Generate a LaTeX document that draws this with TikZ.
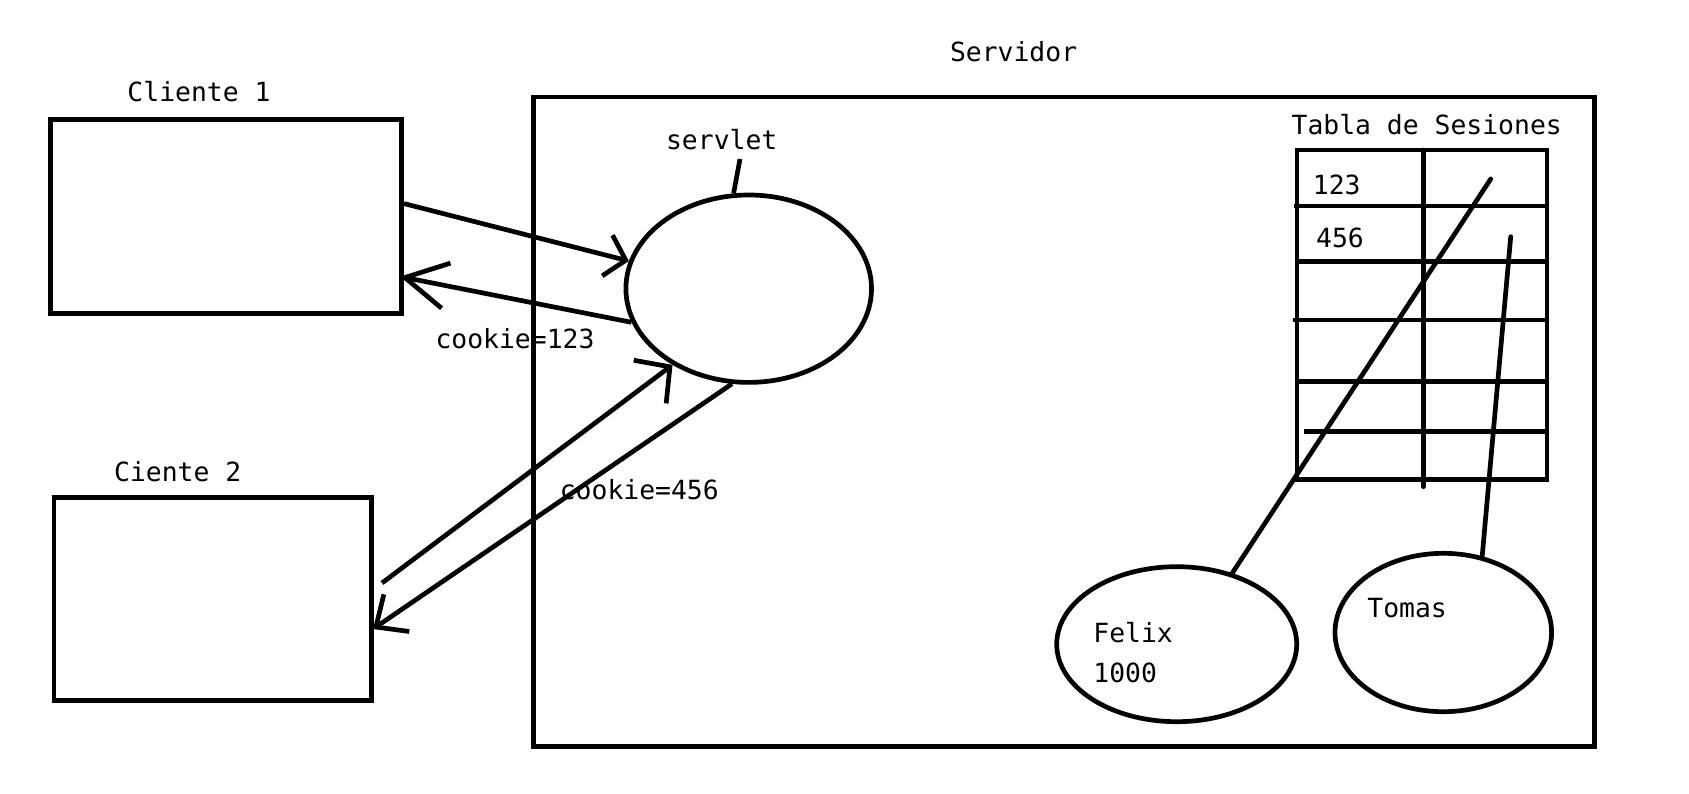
\documentclass[tikz,border=0pt]{standalone}
\usepackage{fontspec}
\usetikzlibrary{arrows.meta,shapes.geometric,calc}
\newfontfamily\sketchFont{DejaVu Sans Mono}
\tikzstyle{clientBox}=[shape = rectangle, draw, line width = 4.7pt, inner sep = 0pt]
\tikzstyle{sessionOval}=[shape = ellipse, draw, line width = 4.7pt, inner sep = 0pt]
\tikzstyle{sketchText}=[inner sep = 0pt, align = left, font = {\sketchFont\fontsize{26.4}{40}\selectfont}]

\begin{document}
\begin{tikzpicture}[x = 1pt, y = -1pt, line width = 4.7pt]
\tikzstyle{barb}=[-{Straight Barb[length = 19pt, width = 42pt]}]
\useasboundingbox (0,0) rectangle (1689,794);
% clientes y servidor
\node[clientBox, minimum width = 351pt, minimum height = 194pt] (cliente1) at (226.2,216.6) {};
\node[clientBox, minimum width = 317.7pt, minimum height = 202.5pt] (cliente2) at (212.8,599) {};
\node[clientBox, minimum width = 1061pt, minimum height = 649.6pt] (servidor) at (1063.8,421.7) {};
\node[sketchText] (lcliente1) at (199,91.6) {Cliente 1};
\node[sketchText] (lcliente2) at (177.7,471.8) {Ciente 2};
\node[sketchText] (lservidor) at (1013.6,51.7) {Servidor};
% servlet
\node[sessionOval, minimum width = 245.6pt, minimum height = 187.4pt] (servlet) at (748.7,288.7) {};
\node[sketchText] (lservlet) at (721.7,140) {servlet};
\coordinate (servtick) at (740,159);
\draw (servtick) -- (servlet.99);
% peticiones y respuestas
\draw[barb] ($(cliente1.east)+(0,-13)$) -- (servlet.167);
\draw[-{Straight Barb[length = 42pt, width = 46pt]}] (servlet.196) -- ($(cliente1.east)+(-4,60)$);
\draw[-{Straight Barb[length = 25pt, width = 54pt]}] ($(cliente2.east)+(8,-16)$) -- (servlet.225);
\draw[-{Straight Barb[length = 25pt, width = 45pt]}] (servlet.260) -- ($(cliente2.east)+(-1,30)$);
\node[sketchText] (lcookie1) at (515,338.3) {cookie=123};
\node[sketchText] (lcookie2) at (639.3,490) {cookie=456};
% tabla de sesiones
\node[clientBox, minimum width = 250pt, minimum height = 329.3pt] (tabla) at (1422,314.7) {};
\node[sketchText] (ltabla) at (1426.7,125) {Tabla de Sesiones};
\draw[line cap = round] (1423.3,150) -- (1423.3,486.7);
\foreach \ya/\xa/\xb in {206/1294/1547, 261.7/1297/1547, 320/1292.7/1549.3, 381.7/1297/1549.3, 431.7/1304/1547}
  \draw (\xa,\ya) -- (\xb,\ya);
\node[sketchText] (id123) at (1336.7,185) {123};
\node[sketchText] (id456) at (1340,238.3) {456};
% sesiones
\node[sessionOval, minimum width = 240pt, minimum height = 155pt] (felix) at (1176.7,644.2) {};
\node[sessionOval, minimum width = 216.6pt, minimum height = 158.4pt] (tomas) at (1443.3,632.5) {};
\node[sketchText, anchor = west] (lfelix) at (1091,653) {Felix\\1000};
\node[sketchText, anchor = west] (ltomas) at (1365,608.3) {Tomas};
\coordinate (fila123) at (1490.7,179);
\coordinate (fila456) at (1510.7,236.7);
\draw[line cap = round] (fila123) -- (felix.52);
\draw[line cap = round] (fila456) -- (tomas.63);
\end{tikzpicture}
\end{document}
